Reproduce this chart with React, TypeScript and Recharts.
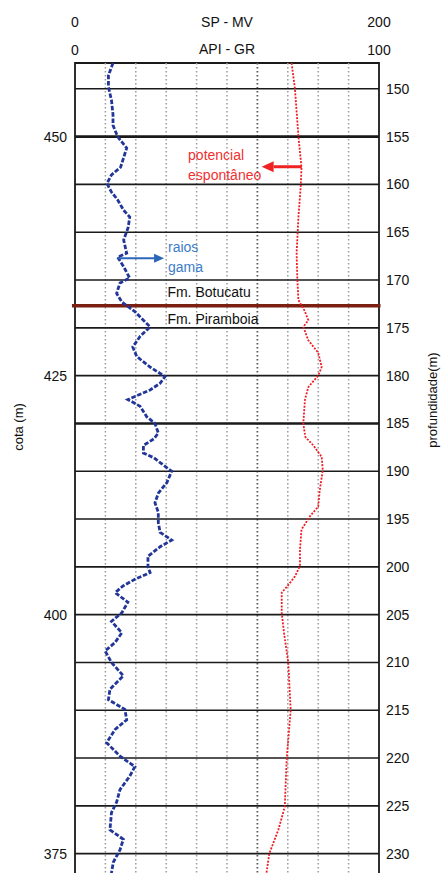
import React from 'react';
import {
    LineChart,
    Line,
    XAxis,
    YAxis,
    ReferenceLine,
    ReferenceArea,
    ReferenceDot
} from 'recharts';

// gamma ray (API) vs depth (m)
const grDepth = [147.3, 148.6, 149.8, 151.2, 152.7, 153.8, 155.0, 156.2, 157.2, 158.2, 159.0, 159.9, 160.8, 161.6, 162.7, 163.4, 164.5, 165.8, 167.2, 167.6, 168.6, 169.8, 170.3, 171.4, 172.3, 173.3, 174.2, 174.9, 175.9, 177.0, 178.0, 179.1, 180.1, 180.8, 181.5, 182.5, 183.2, 184.3, 185.0, 186.0, 186.6, 187.3, 188.1, 188.6, 189.1, 190.0, 191.2, 192.3, 193.3, 194.3, 195.4, 196.4, 197.2, 197.9, 198.9, 200.0, 200.6, 201.3, 202.0, 202.7, 203.7, 204.8, 205.7, 206.9, 207.9, 208.8, 210.0, 211.4, 212.8, 213.9, 214.9, 216.0, 217.0, 218.4, 219.8, 220.9, 221.9, 223.3, 224.6, 225.7, 227.5, 228.5, 229.6, 230.9, 232.0, 233.8];
const grValues = [12.5, 11, 11, 12, 12.5, 12.5, 14, 17, 16, 15, 12, 10.5, 12, 14, 16, 18, 17.5, 16, 17, 14, 16, 18, 14.8, 13.7, 15.4, 19.7, 22.5, 24.7, 21.4, 19, 20.3, 24.7, 29.6, 28, 24.7, 17.4, 21.4, 23.6, 26.3, 27.4, 26, 22.5, 22.5, 26, 28, 31.8, 30.2, 27.4, 26.3, 27.4, 27.4, 28, 31.8, 28, 24, 24, 24.7, 19.7, 15.8, 13.2, 17.4, 15.4, 12, 15.4, 13.2, 9.9, 12, 15.9, 11.5, 11, 16.4, 17, 13.2, 10.4, 14.8, 19.7, 18, 14.8, 13.7, 12, 11.5, 15.9, 14.8, 12.6, 12, 12];

// spontaneous potential (mV) vs depth (m)
const spDepth = [147.3, 150.0, 155.0, 158.2, 160.2, 163.4, 167.2, 170.0, 172.1, 173.2, 174.2, 174.9, 176.3, 177.6, 179.1, 180.0, 181.2, 182.5, 185.0, 186.4, 187.3, 188.5, 189.9, 192.0, 193.7, 194.7, 196.1, 198.2, 199.9, 201.0, 202.1, 202.7, 204.8, 206.9, 210.0, 215.0, 220.0, 225.1, 227.5, 230.0, 232.0, 233.8];
const spValues = [142.5, 144.7, 147, 149, 148.5, 147, 145.8, 146.3, 147, 151, 153.5, 150.2, 153.5, 160, 162.3, 160, 153.5, 151.3, 150.2, 151.5, 156.8, 162.3, 163, 161, 160, 154.6, 149, 148, 148, 144.7, 139.3, 136, 136, 137.5, 140.3, 141.9, 139.3, 138, 133.8, 127.8, 126, 124.5];

const depthTicks = [150, 155, 160, 165, 170, 175, 180, 185, 190, 195, 200, 205, 210, 215, 220, 225, 230];
const boldDepths = [155, 185];
const cotaTicks = [450, 425, 400, 375];
const cotaOfZeroDepth = 605; // cota = 605 - profundidade
const grGrid = [10, 20, 30, 40, 50, 60, 70, 80, 90];
const contactDepth = 172.7;

const depthDomain: [number, number] = [147.3, 233.8];
const cotaDomain: [number, number] = [cotaOfZeroDepth - depthDomain[1], cotaOfZeroDepth - depthDomain[0]];

const grData = grDepth.map((depth, i) => ({ depth, gr: grValues[i] }));
const spData = spDepth.map((depth, i) => ({ cota: cotaOfZeroDepth - depth, sp: spValues[i] }));

const Arrow = (props: any) => {
    const { x1, y1, x2, y2, stroke, strokeWidth, head = 11 } = props;
    const a = Math.atan2(y2 - y1, x2 - x1);
    const bx = x2 - head * Math.cos(a);
    const by = y2 - head * Math.sin(a);
    const half = head * 0.45;
    const px = -Math.sin(a) * half;
    const py = Math.cos(a) * half;
    return (
        <g>
            <line x1={x1} y1={y1} x2={bx} y2={by} stroke={stroke} strokeWidth={strokeWidth} />
            <polygon points={`${x2},${y2} ${bx + px},${by + py} ${bx - px},${by - py}`} fill={stroke} />
        </g>
    );
};

// rotated axis title, placed relative to the axis box
const sideTitle = (text: string, dx: number, dy: number) => (props: any) => {
    const vb = props.viewBox || {};
    const cx = vb.x + dx;
    const cy = vb.y + dy;
    return (
        <text x={cx} y={cy} transform={`rotate(-90 ${cx} ${cy})`} textAnchor="middle" dominantBaseline="central"
            fill="#111" fontSize={13}>{text}</text>
    );
};

const textLabel = (value: string, fill: string) => ({
    value,
    position: 'right' as const,
    offset: 0,
    fill,
    fontSize: 14
});

const App = () => {
    return (
        <div style={{ position: 'absolute', left: 0, top: 0, width: 444, height: 873, overflow: 'hidden', background: '#fff', fontFamily: '"Liberation Sans", Arial, sans-serif' }}>
            <LineChart width={444} height={890} layout="vertical" margin={{ top: 9, right: 0, bottom: 0, left: 0 }}>
                <XAxis xAxisId="gr" type="number" orientation="top" domain={[0, 100]} ticks={[0, 100]} height={28}
                    axisLine={false} tickLine={false} tickSize={0} tickMargin={8} tick={{ fill: '#111', fontSize: 14 }}
                    label={{ value: 'API - GR', position: 'center', fill: '#111', fontSize: 14 }} />
                <XAxis xAxisId="sp" type="number" orientation="top" domain={[0, 200]} ticks={[0, 200]} height={26}
                    axisLine={false} tickLine={false} tickSize={0} tickMargin={8} tick={{ fill: '#111', fontSize: 14 }}
                    label={{ value: 'SP - MV', position: 'center', fill: '#111', fontSize: 14 }} />
                <YAxis yAxisId="depth" type="number" dataKey="depth" orientation="right" domain={depthDomain} allowDataOverflow
                    ticks={depthTicks} width={65} axisLine={false} tickLine={false} tickSize={0} tickMargin={7}
                    tick={{ fill: '#111', fontSize: 14, textAnchor: 'start' }}
                    label={{ content: sideTitle('profundidade(m)', 53, 337) }} />
                <YAxis yAxisId="cota" type="number" dataKey="cota" orientation="left" reversed
                    domain={cotaDomain} allowDataOverflow
                    ticks={cotaTicks} width={75} axisLine={false} tickLine={false} tickSize={0} tickMargin={8}
                    tick={{ fill: '#111', fontSize: 14 }}
                    label={{ content: sideTitle('cota (m)', 18, 364) }} />

                {grGrid.map(v => (
                    <ReferenceLine key={`v${v}`} xAxisId="gr" yAxisId="depth" x={v}
                        stroke={v === 60 ? '#5a5a5a' : '#9a9a9a'} strokeWidth={v === 60 ? 1.8 : 1.5} strokeDasharray="1.6 2.4" />
                ))}
                {depthTicks.map(d => (
                    <ReferenceLine key={`h${d}`} xAxisId="gr" yAxisId="depth" y={d}
                        stroke="#1a1a1a" strokeWidth={boldDepths.includes(d) ? 2.6 : 1.6} />
                ))}
                <ReferenceArea xAxisId="gr" yAxisId="depth" x1={0} x2={100} y1={depthDomain[0]} y2={depthDomain[1]}
                    fill="none" stroke="#1a1a1a" strokeWidth={1.8} fillOpacity={0} />
                <ReferenceLine xAxisId="gr" yAxisId="depth" ifOverflow="visible"
                    segment={[{ x: -1, y: contactDepth }, { x: 100.5, y: contactDepth }]} stroke="#7a1f12" strokeWidth={3.5} />

                <Line xAxisId="sp" yAxisId="cota" data={spData} dataKey="sp" type="linear" dot={false}
                    stroke="#ef1d25" strokeWidth={1.8} strokeDasharray="2 1.4" isAnimationActive={false} />
                <Line xAxisId="gr" yAxisId="depth" data={grData} dataKey="gr" type="linear" dot={false}
                    stroke="#22369a" strokeWidth={2.8} strokeDasharray="4.5 1.8" isAnimationActive={false} />

                <ReferenceLine xAxisId="gr" yAxisId="depth" segment={[{ x: 74.6, y: 158.15 }, { x: 61.4, y: 158.15 }]}
                    stroke="#ee2222" strokeWidth={3} shape={(p: any) => <Arrow {...p} head={12} />} />
                <ReferenceLine xAxisId="gr" yAxisId="depth" segment={[{ x: 14.1, y: 167.73 }, { x: 29.3, y: 167.73 }]}
                    stroke="#2c66b8" strokeWidth={2} shape={(p: any) => <Arrow {...p} head={10} />} />

                <ReferenceDot xAxisId="gr" yAxisId="depth" x={37.2} y={156.9} r={0} label={textLabel('potencial', '#f03030')} />
                <ReferenceDot xAxisId="gr" yAxisId="depth" x={37.2} y={159.0} r={0} label={textLabel('espontâneo', '#f03030')} />
                <ReferenceDot xAxisId="gr" yAxisId="depth" x={30.6} y={166.5} r={0} label={textLabel('raios', '#3d7cc9')} />
                <ReferenceDot xAxisId="gr" yAxisId="depth" x={30.6} y={168.6} r={0} label={textLabel('gama', '#3d7cc9')} />
                <ReferenceDot xAxisId="gr" yAxisId="depth" x={30.4} y={171.3} r={0} label={textLabel('Fm. Botucatu', '#111')} />
                <ReferenceDot xAxisId="gr" yAxisId="depth" x={30.4} y={174.1} r={0} label={textLabel('Fm. Piramboia', '#111')} />
            </LineChart>
        </div>
    );
};

export default App;
